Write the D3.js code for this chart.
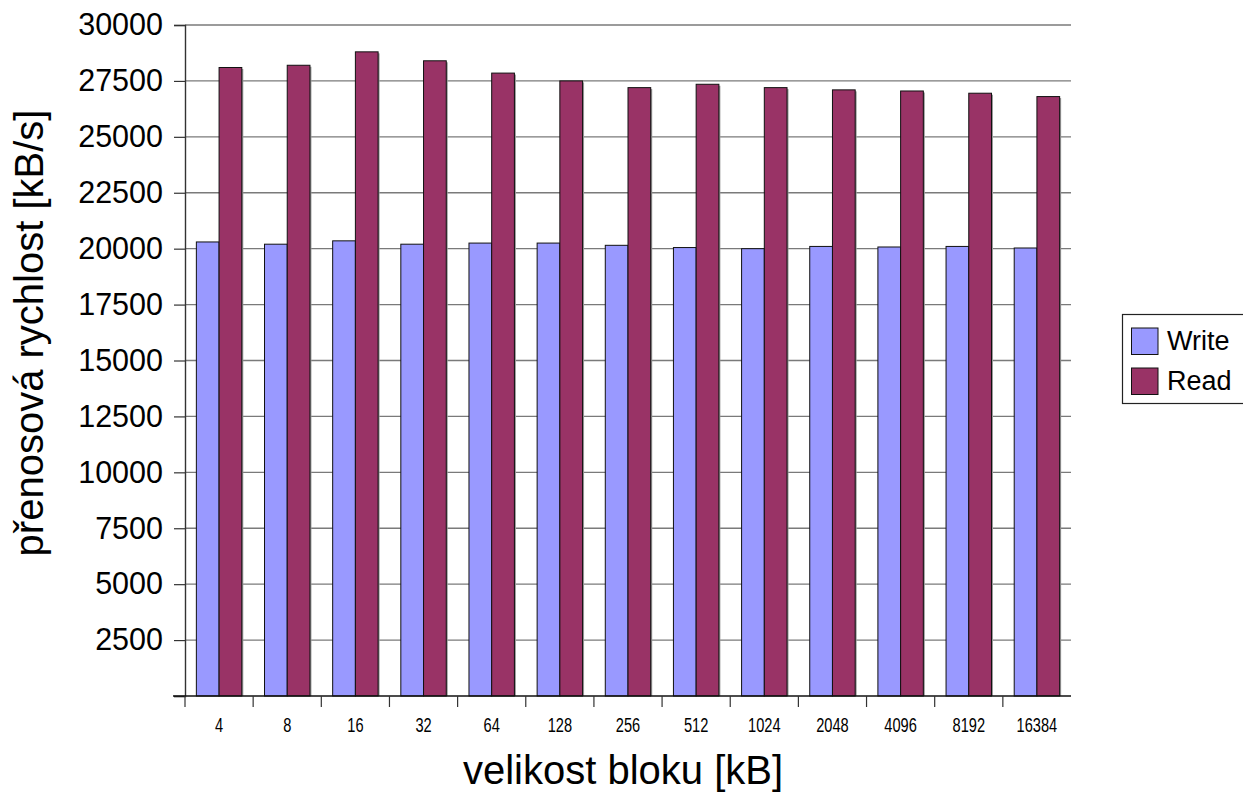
<!DOCTYPE html>
<html>
<head>
<meta charset="utf-8">
<script src="https://cdn.jsdelivr.net/npm/d3@7/dist/d3.min.js"></script>
<style>
  html, body { margin: 0; padding: 0; background: #fff; }
  svg { display: block; font-family: Arial, "Liberation Sans", sans-serif; }
</style>
</head>
<body>
<svg id="chart" width="1243" height="794"></svg>
<script>
const categories = ["4","8","16","32","64","128","256","512","1024","2048","4096","8192","16384"];
const writeValues = [20300,20200,20350,20200,20250,20250,20150,20050,20000,20100,20075,20100,20030];
const readValues  = [28100,28200,28800,28400,27850,27500,27200,27350,27200,27100,27050,26950,26800];
const seriesNames = ["Write","Read"];
const seriesColors = ["#9999FF","#993366"];
const yTicks = [2500,5000,7500,10000,12500,15000,17500,20000,22500,25000,27500,30000];

const svg = d3.select("#chart");
const plotLeft = 185, plotRight = 1071, plotTop = 25, plotBottom = 696;

const x = d3.scaleBand().domain(categories).range([plotLeft, plotRight]).paddingInner(0).paddingOuter(0);
const y = d3.scaleLinear().domain([0, 30000]).range([plotBottom, plotTop]);
const xs = d3.scaleBand().domain(seriesNames).range([x.bandwidth()/6, x.bandwidth()*5/6]);

// gridlines
svg.append("g").selectAll("line").data(yTicks).join("line")
  .attr("x1", plotLeft).attr("x2", plotRight)
  .attr("y1", d => y(d)).attr("y2", d => y(d))
  .attr("stroke", "#7a7a7a").attr("stroke-width", 1.4);

// y axis
const yAxis = svg.append("g").attr("transform", `translate(${plotLeft},0)`)
  .call(d3.axisLeft(y).tickValues([0].concat(yTicks)).tickSize(11).tickPadding(11)
    .tickFormat(d => d === 0 ? "" : d3.format("d")(d)));
yAxis.select(".domain").attr("stroke", "#333").attr("stroke-width", 1.4);
yAxis.selectAll(".tick line").attr("stroke", "#333").attr("stroke-width", 1.2);
yAxis.selectAll("text").attr("font-size", 30.5).attr("fill", "#000")
  .attr("font-family", "Arial, 'Liberation Sans', sans-serif");

// bars
const data = categories.map((c, i) => ({c, vals: [writeValues[i], readValues[i]]}));
const groups = svg.append("g").selectAll("g").data(data).join("g")
  .attr("transform", d => `translate(${x(d.c)},0)`);
groups.selectAll("rect.shadow").data(d => d.vals.map((v, j) => ({v, s: seriesNames[j]}))).join("rect")
  .attr("class", "shadow")
  .attr("x", d => xs(d.s) + 1.5).attr("y", d => y(d.v) + 1.5)
  .attr("width", xs.bandwidth()).attr("height", d => plotBottom - y(d.v) - 1.5)
  .attr("fill", "#9a9a9a");
groups.selectAll("rect.bar").data(d => d.vals.map((v, j) => ({v, s: seriesNames[j], j}))).join("rect")
  .attr("class", "bar")
  .attr("x", d => xs(d.s)).attr("y", d => y(d.v))
  .attr("width", xs.bandwidth()).attr("height", d => plotBottom - y(d.v))
  .attr("fill", d => seriesColors[d.j])
  .attr("stroke", "#111").attr("stroke-width", 1);

// x axis
const xAxisG = svg.append("g").attr("transform", `translate(0,${plotBottom})`);
xAxisG.append("line").attr("x1", 173).attr("x2", plotRight).attr("y1", 0).attr("y2", 0)
  .attr("stroke", "#111").attr("stroke-width", 1.6);
xAxisG.selectAll("line.tk").data(categories).join("line").attr("class", "tk")
  .attr("x1", d => x(d)).attr("x2", d => x(d)).attr("y1", 0).attr("y2", 11)
  .attr("stroke", "#333").attr("stroke-width", 1.2);
xAxisG.selectAll("text").data(categories).join("text")
  .attr("transform", d => `translate(${x(d) + x.bandwidth()/2},36) scale(0.75,1)`)
  .attr("text-anchor", "middle").attr("font-size", 19.5).attr("fill", "#000")
  .text(d => d);

// axis titles
svg.append("text").attr("transform", `translate(43,333) rotate(-90)`)
  .attr("text-anchor", "middle").attr("font-size", 40).attr("fill", "#000")
  .text("přenosová rychlost [kB/s]");
svg.append("text").attr("x", 623).attr("y", 784)
  .attr("text-anchor", "middle").attr("font-size", 40).attr("fill", "#000")
  .text("velikost bloku [kB]");

// legend
const lg = svg.append("g");
lg.append("rect").attr("x", 1122.5).attr("y", 314.5).attr("width", 125).attr("height", 89)
  .attr("fill", "#fff").attr("stroke", "#222").attr("stroke-width", 1.2);
seriesNames.forEach((name, i) => {
  const yy = 328 + i * 40;
  lg.append("rect").attr("x", 1131.5).attr("y", yy).attr("width", 26.5).attr("height", 26.5)
    .attr("fill", seriesColors[i]).attr("stroke", "#111").attr("stroke-width", 1);
  lg.append("text").attr("x", 1167).attr("y", yy + 22).attr("font-size", 27).attr("fill", "#000").text(name);
});
</script>
</body>
</html>
